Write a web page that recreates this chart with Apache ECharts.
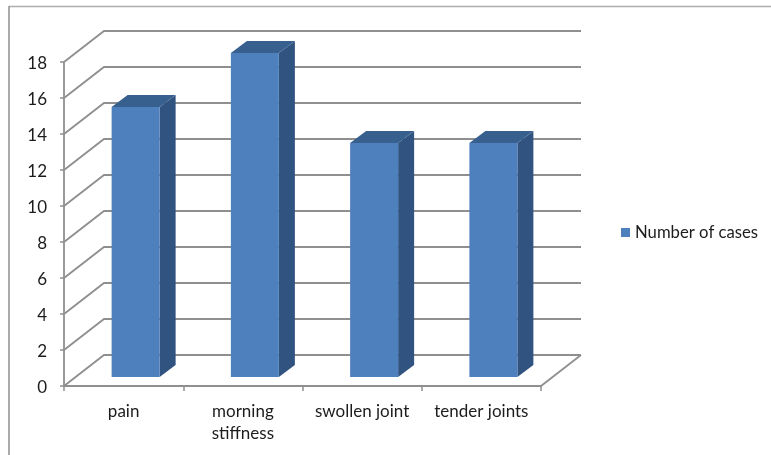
<!DOCTYPE html>
<html>
<head>
<meta charset="utf-8">
<style>html,body{margin:0;padding:0;background:#fff}#chart{width:771px;height:455px}</style>
<script src="https://cdn.jsdelivr.net/npm/echarts@6/dist/echarts.min.js"></script>
</head>
<body>
<div id="chart"></div>
<script>
const categories = ['pain', 'morning\nstiffness', 'swollen joint', 'tender joints'];
const cases = [15, 18, 13, 13];
const yTicks = [0, 2, 4, 6, 8, 10, 12, 14, 16, 18];
const seriesName = 'Number of cases';

const font = 'Lato';
const textColor = '#1c1c1c';
const lineColor = '#8f8f8f';
const frontColor = '#4e80bd';
const sideColor = '#31537f';
const topColor = '#37608f';

// Pixel depth of the fake-3D box: back wall and bar extrusion
const wallDepth = [40, -31];
const barDepth = [16, -12];
const barWidth = 48;
const floorInset = [12, -9];

function renderWall(params, api) {
  const cs = params.coordSys;
  const p = api.coord([0, api.value(1)]);
  const y = p[1];
  const left = cs.x;
  const right = cs.x + cs.width;
  const children = [{
    type: 'polyline',
    shape: { points: [
      [left, y],
      [left + wallDepth[0], y + wallDepth[1]],
      [right + wallDepth[0], y + wallDepth[1]]
    ] },
    style: { stroke: lineColor, lineWidth: 1.8, fill: null }
  }];
  if (api.value(1) === 0) {
    children.push({
      type: 'line',
      shape: { x1: right, y1: y, x2: right + wallDepth[0], y2: y + wallDepth[1] },
      style: { stroke: lineColor, lineWidth: 1.8 }
    });
  }
  return { type: 'group', children };
}

function renderBar(params, api) {
  const top = api.coord([api.value(0), api.value(1)]);
  const base = api.coord([api.value(0), 0]);
  const x0 = top[0] + floorInset[0] - barWidth / 2;
  const x1 = x0 + barWidth;
  const yTop = top[1] + floorInset[1];
  const yBase = base[1] + floorInset[1];
  const dx = barDepth[0], dy = barDepth[1];
  return {
    type: 'group',
    children: [
      { type: 'polygon',
        shape: { points: [[x1, yBase], [x1 + dx, yBase + dy], [x1 + dx, yTop + dy], [x1, yTop]] },
        style: { fill: sideColor } },
      { type: 'polygon',
        shape: { points: [[x0, yTop], [x0 + dx, yTop + dy], [x1 + dx, yTop + dy], [x1, yTop]] },
        style: { fill: topColor } },
      { type: 'rect',
        shape: { x: x0, y: yTop, width: barWidth, height: yBase - yTop },
        style: { fill: frontColor } }
    ]
  };
}

const chart = echarts.init(document.getElementById('chart'), null, { renderer: 'canvas' });
chart.setOption({
  animation: false,
  backgroundColor: '#ffffff',
  textStyle: { fontFamily: font },
  grid: { left: 64, right: 230, top: 62, bottom: 69 },
  xAxis: {
    type: 'category',
    data: categories,
    axisLine: { lineStyle: { color: lineColor, width: 2 } },
    axisTick: { show: true, alignWithLabel: false, length: 5, lineStyle: { color: lineColor, width: 1.5 } },
    axisLabel: { interval: 0, color: textColor, fontFamily: font, fontSize: 17, lineHeight: 22, margin: 15 }
  },
  yAxis: {
    type: 'value',
    min: 0,
    max: 18,
    interval: 2,
    splitLine: { show: false },
    axisLine: { show: true, lineStyle: { color: lineColor, width: 1.8 } },
    axisTick: { show: true, length: 4, lineStyle: { color: lineColor, width: 1.5 } },
    axisLabel: { color: textColor, fontFamily: font, fontSize: 17, margin: 17, verticalAlign: 'top', lineHeight: 4 }
  },
  legend: {
    left: 621,
    top: 224,
    padding: 0,
    itemWidth: 9,
    itemHeight: 9,
    itemGap: 0,
    data: [{ name: seriesName, icon: 'rect', itemStyle: { color: frontColor } }],
    textStyle: { color: textColor, fontFamily: font, fontSize: 16.7 },
    selectedMode: false
  },
  graphic: [
    { type: 'polyline', silent: true, z: 0,
      shape: { points: [[771, 6.5], [9, 6.5]] },
      style: { stroke: '#adadad', lineWidth: 1.5, fill: null } },
    { type: 'polyline', silent: true, z: 0,
      shape: { points: [[9, 6], [9, 455]] },
      style: { stroke: '#8f8f8f', lineWidth: 1.5, fill: null } }
  ],
  series: [
    { name: 'walls', type: 'custom', silent: true, z: 1,
      renderItem: renderWall,
      data: yTicks.map(t => [0, t]) },
    { name: seriesName, type: 'custom', silent: true, z: 2,
      itemStyle: { color: frontColor },
      renderItem: renderBar,
      data: cases.map((v, i) => [i, v]) }
  ]
});
</script>
</body>
</html>
